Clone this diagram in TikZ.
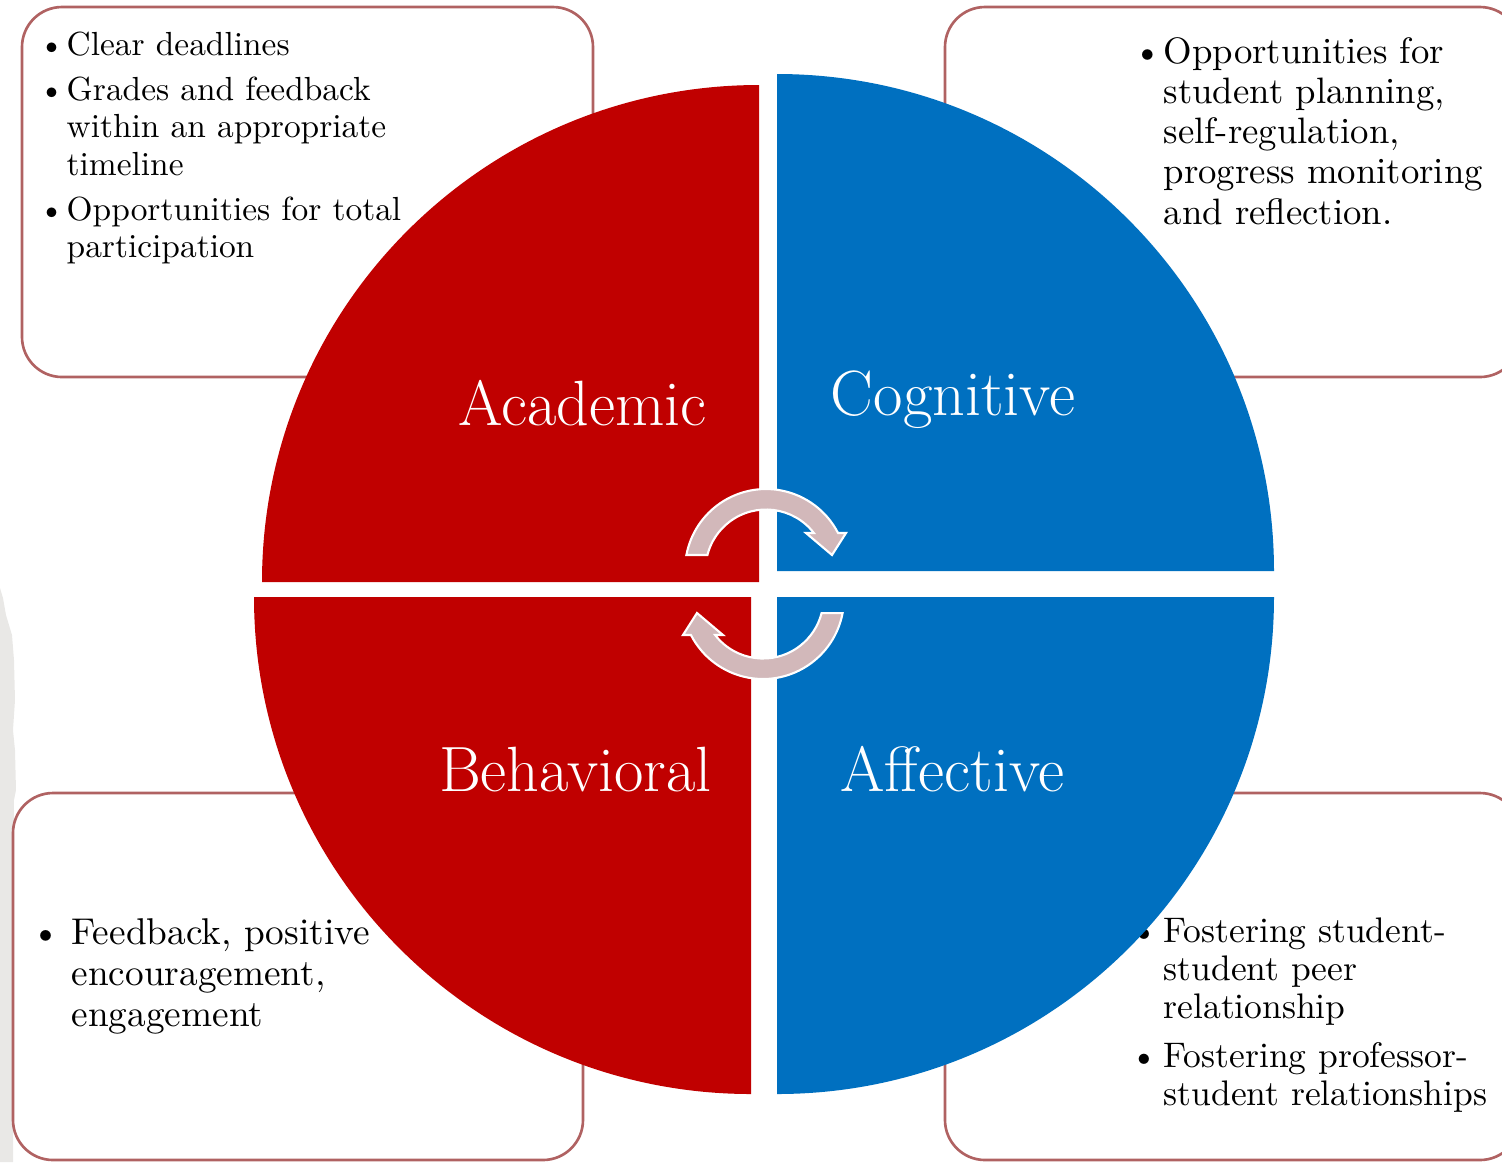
\documentclass[tikz,border=0pt]{standalone}
\usepackage{fontspec}
\usetikzlibrary{calc}
\definecolor{quadred}{RGB}{192,0,0}
\definecolor{quadblue}{RGB}{0,112,192}
\definecolor{panelframe}{RGB}{176,98,98}
\definecolor{cyclefill}{RGB}{210,184,186}
\definecolor{paper}{RGB}{233,232,230}

\begin{document}
\begin{tikzpicture}[x=0.01cm,y=-0.01cm,
  panel/.style={draw=panelframe,line width=0.75pt,fill=white,rounded corners=0.4cm},
  bul/.style={anchor=base west,inner sep=0pt},
  itemtext/.style={anchor=base west,inner sep=0pt},
  fontA/.style={font=\fontsize{9.5}{10.7}\selectfont},
  fontB/.style={font=\fontsize{10.45}{11.45}\selectfont},
  fontC/.style={font=\fontsize{10.6}{11.7}\selectfont},
  fontD/.style={font=\fontsize{10.1}{10.9}\selectfont},
  quadlabel/.style={anchor=base,inner sep=0pt,text=white,font=\fontsize{18.2}{22}\selectfont},
  cyclearrow/.style={fill=cyclefill,draw=white,line width=0.6pt,line join=miter}]
\useasboundingbox (0,0) rectangle (1502,1162);
\clip (0,0) rectangle (1502,1162);

% torn paper strip on the left edge
\fill[paper] (0,588) -- (3,598) -- (6,615) -- (12,635) -- (14,660) -- (15,700)
  -- (13,730) -- (15,750) -- (16,790) -- (14,800) -- (13,1162) -- (0,1162) -- cycle;

% corner panels
\draw[panel] (22,7) rectangle (593,377);
\draw[panel] (945,7) rectangle (1520,377);
\draw[panel] (13,793) rectangle (583,1160);
\draw[panel] (945,793) rectangle (1520,1160);

% academic panel
\node[bul,fontA] (ab1) at (38,55) {\textbullet};
\node[itemtext,fontA] (at1) at (66,55) {\parbox[t]{5cm}{\raggedright Clear deadlines}};
\node[bul,fontA] (ab2) at (38,100) {\textbullet};
\node[itemtext,fontA] (at2) at (66,100) {\parbox[t]{5cm}{\raggedright Grades and feedback\\within an appropriate\\timeline}};
\node[bul,fontA] (ab3) at (38,220) {\textbullet};
\node[itemtext,fontA] (at3) at (66,220) {\parbox[t]{5cm}{\raggedright Opportunities for total\\participation}};

% cognitive panel
\node[bul,fontB] (cb1) at (1133,63) {\textbullet};
\node[itemtext,fontB] (ct1) at (1163,63) {\parbox[t]{5cm}{\raggedright Opportunities for\\student planning,\\self-regulation,\\progress monitoring\\and reflection.}};

% behavioral panel
\node[bul,fontC] (bb1) at (31,944) {\textbullet};
\node[itemtext,fontC] (bt1) at (71,944) {\parbox[t]{5cm}{\raggedright Feedback, positive\\encouragement,\\engagement}};

% affective panel
\node[bul,fontD] (fb1) at (1130,942) {\textbullet};
\node[itemtext,fontD] (ft1) at (1163,942) {\parbox[t]{5cm}{\raggedright Fostering student-\\student peer\\relationship}};
\node[bul,fontD] (fb2) at (1130,1067) {\textbullet};
\node[itemtext,fontD] (ft2) at (1163,1067) {\parbox[t]{5cm}{\raggedright Fostering professor-\\student relationships}};

% quarter discs
\fill[quadred]  (759,582) -- (262,582) arc[start angle=180,end angle=270,radius=497] -- cycle;
\fill[quadblue] (777,571) -- (777,74) arc[start angle=270,end angle=360,radius=497] -- cycle;
\fill[quadred]  (751,597) -- (751,1094) arc[start angle=90,end angle=180,radius=497] -- cycle;
\fill[quadblue] (777,597) -- (1274,597) arc[start angle=0,end angle=90,radius=497] -- cycle;

% quadrant titles
\node[quadlabel] (academic) at (582.5,425) {Academic};
\node[quadlabel] (cognitive) at (953,415) {Cognitive};
\node[quadlabel] (behavioral) at (575.4,791) {Behavioral};
\node[quadlabel] (affective) at (952.4,791) {Affective};

% circular arrows in the middle
\coordinate (c1) at (766,570);
\coordinate (c2) at (763,598);
\filldraw[cyclearrow] ($(c1)+(190.7:81)$) arc[start angle=190.7,end angle=332.8,radius=81]
  -- (846,533) -- (832,555) -- (806,533)
  -- ($(c1)+(322.3:60.5)$) arc[start angle=322.3,end angle=194.4,radius=60.5] -- cycle;
\filldraw[cyclearrow] ($(c2)+(10.7:81)$) arc[start angle=10.7,end angle=152.8,radius=81]
  -- (683,635) -- (697,613) -- (723,635)
  -- ($(c2)+(142.3:60.5)$) arc[start angle=142.3,end angle=14.4,radius=60.5] -- cycle;
\end{tikzpicture}
\end{document}
